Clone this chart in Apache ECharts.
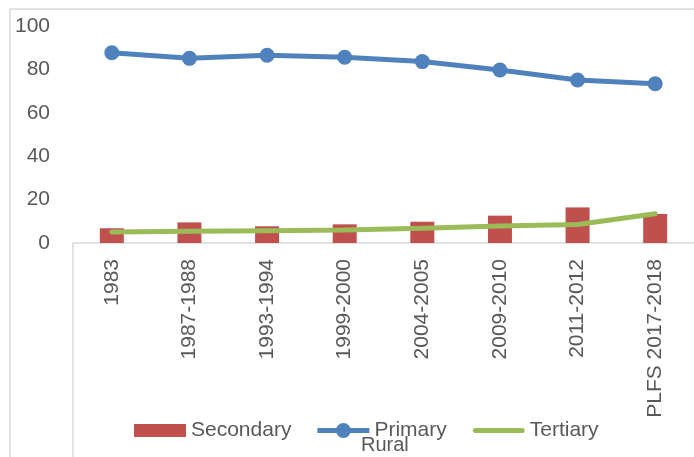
<!DOCTYPE html>
<html>
<head>
<meta charset="utf-8">
<script src="https://cdn.jsdelivr.net/npm/echarts@6/dist/echarts.min.js"></script>
<style>html,body{margin:0;padding:0;background:#fff}#c{width:694px;height:457px}</style>
</head>
<body>
<div id="c"></div>
<script>
const categories = ['1983','1987-1988','1993-1994','1999-2000','2004-2005','2009-2010','2011-2012','PLFS 2017-2018'];
const primary = [87.7, 85.1, 86.5, 85.6, 83.6, 79.7, 75.1, 73.4];
const secondary = [6.8, 9.5, 7.7, 8.6, 9.8, 12.6, 16.4, 13.4];
const tertiary = [5.1, 5.4, 5.7, 6.0, 6.8, 7.8, 8.5, 13.5];
const yTicks = [0, 20, 40, 60, 80, 100];

const FONT = 'Liberation Sans';
const GRAY = '#595959';
const RED = '#C0504D', BLUE = '#4F81BD', GREEN = '#9BBB59';
const iconRect = 'path://M0,0H52V13H0Z';
const iconPrimary = 'path://M0,5H52V10H0Z M18.5,7.5A7.5,7.5 0 0 1 33.5,7.5A7.5,7.5 0 0 1 18.5,7.5Z';
const iconTertiary = 'path://M2.5,5H49.5A2.5,2.5 0 0 1 49.5,10H2.5A2.5,2.5 0 0 1 2.5,5Z';

const chart = echarts.init(document.getElementById('c'), null, {renderer: 'canvas'});
chart.setOption({
  animation: false,
  textStyle: {fontFamily: FONT},
  title: {
    text: 'Rural', left: 361, top: 435, padding: 0,
    textStyle: {fontFamily: FONT, fontSize: 20, fontWeight: 'normal', color: GRAY}
  },
  legend: {
    data: [
      {name: 'Secondary', icon: iconRect, itemStyle: {color: RED, borderWidth: 0}},
      {name: 'Primary', icon: iconPrimary, itemStyle: {color: BLUE, borderWidth: 0}},
      {name: 'Tertiary', icon: iconTertiary, itemStyle: {color: GREEN, borderWidth: 0}}
    ],
    left: 134, top: 420, padding: 0,
    itemWidth: 52, itemHeight: 15, itemGap: 26,
    itemStyle: {borderWidth: 0},
    textStyle: {fontFamily: FONT, fontSize: 21, color: GRAY}
  },
  grid: {left: 73, top: 26, width: 625, bottom: 214, containLabel: false},
  xAxis: {
    type: 'category', data: categories,
    axisLine: {show: true, lineStyle: {color: '#d9d9d9', width: 1.5}},
    axisTick: {show: false},
    axisLabel: {rotate: 90, margin: 16, fontSize: 21, color: GRAY, fontFamily: FONT, interval: 0}
  },
  yAxis: {
    type: 'value', min: yTicks[0], max: yTicks[yTicks.length - 1], interval: 20,
    axisLine: {show: false}, axisTick: {show: false}, splitLine: {show: false},
    axisLabel: {fontSize: 21, color: GRAY, fontFamily: FONT, margin: 23}
  },
  graphic: [
    {type: 'line', shape: {x1: 10, y1: 9, x2: 694, y2: 9}, style: {stroke: '#d9d9d9', lineWidth: 1.5}},
    {type: 'line', shape: {x1: 10, y1: 9, x2: 10, y2: 457}, style: {stroke: '#d9d9d9', lineWidth: 1.5}},
    {type: 'line', shape: {x1: 73, y1: 243, x2: 73, y2: 457}, style: {stroke: '#d9d9d9', lineWidth: 1.5}}
  ],
  series: [
    {
      name: 'Secondary', type: 'bar', data: secondary, barWidth: 24,
      itemStyle: {color: RED}
    },
    {
      name: 'Primary', type: 'line', data: primary, symbol: 'circle', symbolSize: 15,
      lineStyle: {color: BLUE, width: 5}, itemStyle: {color: BLUE}
    },
    {
      name: 'Tertiary', type: 'line', data: tertiary, symbol: 'none', showSymbol: false,
      lineStyle: {color: GREEN, width: 5, cap: 'round'}, itemStyle: {color: GREEN}
    }
  ]
});
</script>
</body>
</html>
